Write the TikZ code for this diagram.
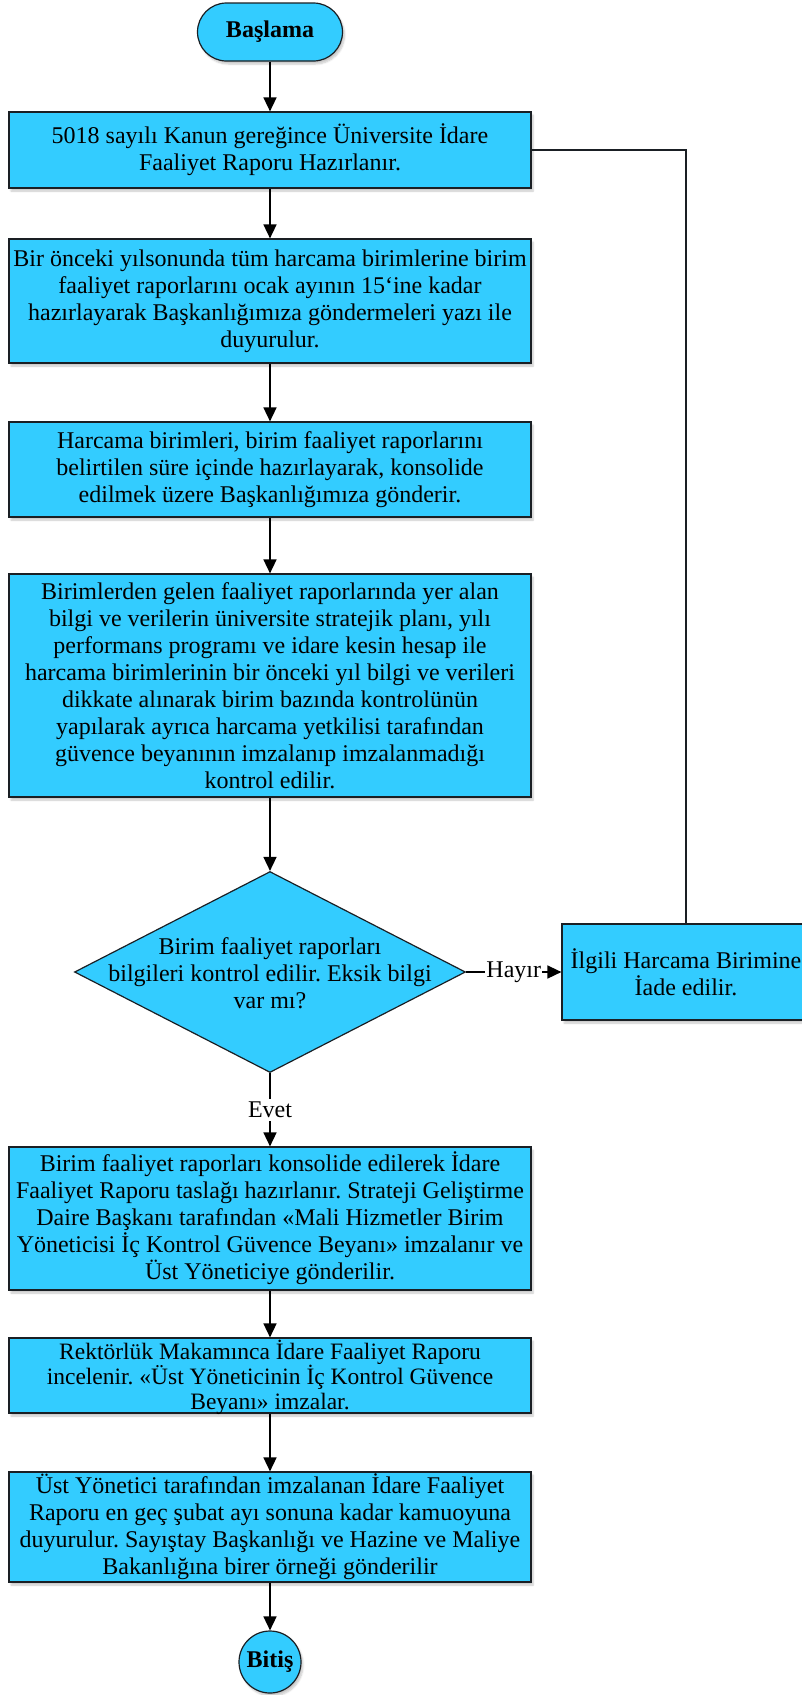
\documentclass[tikz,border=0pt]{standalone}
\usepackage{fontspec}
\setmainfont{Liberation Serif}
\usetikzlibrary{shapes.geometric,arrows.meta,shadows.blur}
\definecolor{boxfill}{HTML}{33CCFF}
\definecolor{edgecol}{HTML}{1A1F24}
\frenchspacing
\begin{document}
\begin{tikzpicture}[x=1pt,y=-1pt,
  txt/.style={font=\fontsize{24}{27}\selectfont, align=center},
  base/.style={txt, draw=edgecol, line width=1.2pt, fill=boxfill, inner sep=0pt},
  shade/.style={blur shadow={shadow xshift=2pt, shadow yshift=-3pt, shadow blur steps=6, shadow opacity=22}},
  procbox/.style={base, shade, rectangle, minimum width=522pt},
  boldtxt/.style={font=\fontsize{24}{27}\selectfont\bfseries},
  arr/.style={line width=1.6pt, draw=black, -{Triangle[width=13pt,length=14pt]}},
  lab/.style={txt, fill=white, inner xsep=1pt, inner ysep=3pt},
]
\useasboundingbox (0,0) rectangle (802,1695);

\node[base, shade, rectangle, rounded corners=29pt, minimum width=145pt, minimum height=58pt, boldtxt] (start) at (270,32) {Başlama};

\node[procbox, minimum height=76pt] (b1) at (270,150) {5018 sayılı Kanun gereğince Üniversite İdare\\Faaliyet Raporu Hazırlanır.};

\node[procbox, minimum height=124pt] (b2) at (270,301) {Bir önceki yılsonunda tüm harcama birimlerine birim\\faaliyet raporlarını ocak ayının 15‘ine kadar\\hazırlayarak Başkanlığımıza göndermeleri yazı ile\\duyurulur.};

\node[procbox, minimum height=95pt] (b3) at (270,469.5) {Harcama birimleri, birim faaliyet raporlarını\\belirtilen süre içinde hazırlayarak, konsolide\\edilmek üzere Başkanlığımıza gönderir.};

\node[procbox, minimum height=223pt] (b4) at (270,685.5) {Birimlerden gelen faaliyet raporlarında yer alan\\bilgi ve verilerin üniversite stratejik planı, yılı\\performans programı ve idare kesin hesap ile\\harcama birimlerinin bir önceki yıl bilgi ve verileri\\dikkate alınarak birim bazında kontrolünün\\yapılarak ayrıca harcama yetkilisi tarafından\\güvence beyanının imzalanıp imzalanmadığı\\kontrol edilir.};

\node[base, diamond, aspect=1.945, minimum width=391pt, minimum height=201pt] (dia) at (270,972) {};
\node[txt] (diatext) at (270,973) {Birim faaliyet raporları\\bilgileri kontrol edilir. Eksik bilgi\\var mı?};

\node[procbox, minimum width=248pt, minimum height=96pt] (iade) at (686,972) {İlgili Harcama Birimine\\İade edilir.};

\node[procbox, minimum height=143pt] (b5) at (270,1218.5) {Birim faaliyet raporları konsolide edilerek İdare\\Faaliyet Raporu taslağı hazırlanır. Strateji Geliştirme\\Daire Başkanı tarafından «Mali Hizmetler Birim\\Yöneticisi İç Kontrol Güvence Beyanı» imzalanır ve\\Üst Yöneticiye gönderilir.};

\node[procbox, minimum height=75pt] (b6) at (270,1375.5) {};
\node[txt, inner sep=0pt, font=\fontsize{23.5}{25}\selectfont] (b6text) at (270,1377) {Rektörlük Makamınca İdare Faaliyet Raporu\\incelenir. «Üst Yöneticinin İç Kontrol Güvence\\Beyanı» imzalar.};

\node[procbox, minimum height=110pt] (b7) at (270,1527) {Üst Yönetici tarafından imzalanan İdare Faaliyet\\Raporu en geç şubat ayı sonuna kadar kamuoyuna\\duyurulur. Sayıştay Başkanlığı ve Hazine ve Maliye\\Bakanlığına birer örneği gönderilir};

\node[base, shade, circle, minimum size=62pt, boldtxt] (end) at (270,1662) {Bitiş};

\draw[arr] (start) -- (b1);
\draw[arr] (b1) -- (b2);
\draw[arr] (b2) -- (b3);
\draw[arr] (b3) -- (b4);
\draw[arr] (b4) -- (dia);
\draw[arr] (dia.south) -- node[lab] (evet) {Evet} (b5.north);
\draw[arr] (dia.east) -- node[lab] (hayir) {Hayır} (iade.west);
\draw[arr] (b5) -- (b6);
\draw[arr] (b6) -- (b7);
\draw[arr] (b7) -- (end);
\draw[line width=1.2pt, draw=edgecol] (b1.east) -| (iade.north);
\end{tikzpicture}
\end{document}
